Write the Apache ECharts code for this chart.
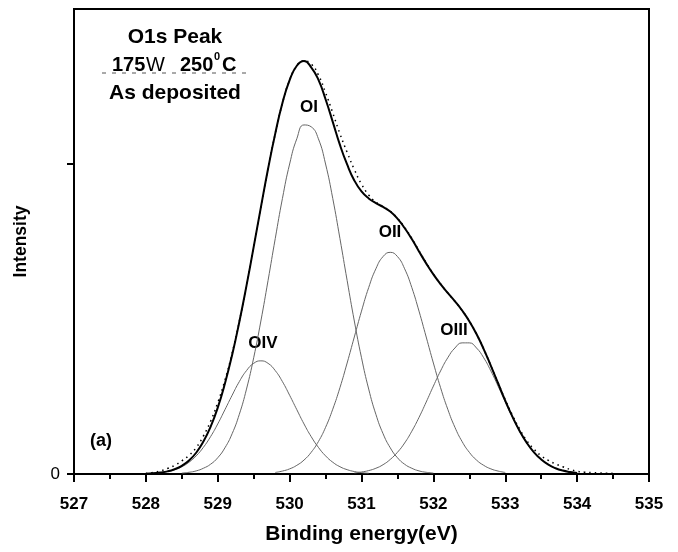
<!DOCTYPE html>
<html><head><meta charset="utf-8">
<script src="https://cdn.jsdelivr.net/npm/echarts@6/dist/echarts.min.js"></script>
<style>html,body{margin:0;padding:0;background:#fff}#c{width:678px;height:552px}</style>
</head><body><div id="c"></div>
<script>
// Shared binding-energy grid (eV), 528.0 ... 534.6 in 0.1 steps
const energy = [528.0,528.1,528.2,528.3,528.4,528.5,528.6,528.7,528.8,528.9,
529.0,529.1,529.2,529.3,529.4,529.5,529.6,529.7,529.8,529.9,
530.0,530.1,530.2,530.3,530.4,530.5,530.6,530.7,530.8,530.9,
531.0,531.1,531.2,531.3,531.4,531.5,531.6,531.7,531.8,531.9,
532.0,532.1,532.2,532.3,532.4,532.5,532.6,532.7,532.8,532.9,
533.0,533.1,533.2,533.3,533.4,533.5,533.6,533.7,533.8,533.9,
534.0,534.1,534.2,534.3,534.4,534.5,534.6];

const n = null;
// Measured data (dotted)
const rawData = [0.004,0.010,0.020,0.035,0.055,0.085,0.120,0.170,0.245,0.340,
0.460,0.605,0.780,0.985,1.215,1.465,1.720,1.969,2.196,2.393,
2.541,2.634,2.665,2.645,2.575,2.460,2.330,2.195,2.075,1.965,
1.870,1.800,1.755,1.725,1.695,1.650,1.590,1.520,1.440,1.362,
1.290,1.226,1.168,1.114,1.055,0.986,0.903,0.806,0.698,0.588,
0.480,0.380,0.290,0.215,0.160,0.118,0.088,0.065,0.047,0.030,
0.018,0.012,0.009,0.007,0.005,0.004,n];

// Fitted envelope (thick)
const envelope = [0.002,0.005,0.010,0.017,0.031,0.053,0.087,0.137,0.209,0.304,
0.428,0.584,0.768,0.981,1.215,1.465,1.720,1.969,2.196,2.393,
2.541,2.634,2.664,2.624,2.544,2.418,2.272,2.123,1.997,1.894,
1.823,1.778,1.748,1.723,1.693,1.648,1.587,1.516,1.436,1.359,
1.288,1.225,1.168,1.114,1.055,0.986,0.903,0.806,0.698,0.586,
0.474,0.370,0.278,0.201,0.140,0.094,0.060,0.037,0.022,0.013,
0.007,n,n,n,n,n,n];

// Components
const peakOI = [n,n,n,n,n,0.006,0.011,0.020,0.037,0.063,
0.105,0.169,0.260,0.385,0.548,0.750,0.987,1.249,1.519,1.778,
2.000,2.163,2.252,2.240,2.163,2.000,1.778,1.519,1.249,0.987,
0.750,0.548,0.385,0.260,0.169,0.105,0.063,0.037,0.020,0.011,
0.006,n,n,n,n,n,n,n,n,n,
n,n,n,n,n,n,n,n,n,n,
n,n,n,n,n,n,n];

const peakOII = [n,n,n,n,n,n,n,n,n,n,
n,n,n,n,n,n,n,n,0.010,0.019,
0.033,0.056,0.090,0.140,0.209,0.301,0.418,0.557,0.716,0.884,
1.051,1.203,1.324,1.403,1.430,1.403,1.324,1.203,1.051,0.884,
0.716,0.557,0.418,0.301,0.209,0.140,0.090,0.056,0.033,0.019,
0.010,n,n,n,n,n,n,n,n,n,
n,n,n,n,n,n,n];

const peakOIII = [n,n,n,n,n,n,n,n,n,n,
n,n,n,n,n,n,n,n,n,n,
n,n,n,n,n,n,n,n,n,0.007,
0.013,0.022,0.037,0.060,0.094,0.140,0.200,0.276,0.365,0.464,
0.567,0.665,0.750,0.813,0.846,0.846,0.813,0.750,0.665,0.567,
0.464,0.365,0.276,0.200,0.140,0.094,0.060,0.037,0.022,0.013,
0.007,n,n,n,n,n,n];

const peakOIV = [n,0.005,0.009,0.016,0.028,0.047,0.076,0.117,0.172,0.241,
0.323,0.415,0.508,0.596,0.667,0.714,0.730,0.714,0.667,0.596,
0.508,0.415,0.323,0.241,0.172,0.117,0.076,0.047,0.028,0.016,
0.009,0.005,n,n,n,n,n,n,n,n,
n,n,n,n,n,n,n,n,n,n,
n,n,n,n,n,n,n,n,n,n,
n,n,n,n,n,n,n];

const xTicks = [527, 535, 1];
const yTickValues = [0, 2];
const yLabelValues = [0];

const pairs = arr => energy.map((e, i) => [e, arr[i]]);
const FONT = 'Arial, "Liberation Sans", sans-serif';

const comp = (name, arr) => ({
  name, type: 'line', data: pairs(arr), showSymbol: false, smooth: 0.5,
  connectNulls: false, lineStyle: { color: '#666', width: 1 }, z: 2, silent: true
});

const chart = echarts.init(document.getElementById('c'), null, { renderer: 'canvas' });
chart.setOption({
  animation: false,
  backgroundColor: '#fff',
  grid: { left: 74, right: 29, top: 9, bottom: 78, show: true, borderColor: '#000', borderWidth: 2, backgroundColor: 'transparent' },
  xAxis: {
    type: 'value', min: xTicks[0], max: xTicks[1], interval: xTicks[2],
    name: 'Binding energy(eV)', nameLocation: 'middle', nameGap: 50,
    nameTextStyle: { color: '#000', fontWeight: 'bold', fontSize: 21, fontFamily: FONT },
    axisLine: { lineStyle: { color: '#000', width: 2 } },
    axisTick: { length: 8, lineStyle: { color: '#000', width: 2 } },
    minorTick: { show: true, splitNumber: 2, length: 5, lineStyle: { color: '#000', width: 2 } },
    splitLine: { show: false },
    axisLabel: { color: '#000', fontWeight: 'bold', fontSize: 17, fontFamily: FONT, margin: 22 }
  },
  yAxis: {
    type: 'value', min: 0, max: 3,
    name: 'Intensity', nameLocation: 'middle', nameGap: 44,
    nameTextStyle: { color: '#000', fontWeight: 'bold', fontSize: 17.5, fontFamily: FONT },
    axisLine: { show: true, lineStyle: { color: '#000', width: 2 } },
    axisTick: { show: true, customValues: yTickValues, length: 7, lineStyle: { color: '#000', width: 2 } },
    splitLine: { show: false },
    axisLabel: { customValues: yLabelValues, color: '#000', fontSize: 17, fontFamily: FONT, margin: 14 }
  },
  series: [
    comp('OI', peakOI), comp('OII', peakOII), comp('OIII', peakOIII), comp('OIV', peakOIV),
    { name: 'raw', type: 'line', data: pairs(rawData), showSymbol: false, smooth: 0.5,
      lineStyle: { color: '#000', width: 1.5, type: [1.5, 4] }, z: 3, silent: true },
    { name: 'envelope', type: 'line', data: pairs(envelope), showSymbol: false, smooth: 0.5,
      lineStyle: { color: '#000', width: 2 }, z: 4, silent: true }
  ],
  graphic: [
    { type: 'text', x: 175, y: 37, style: { text: 'O1s Peak', font: 'bold 21px ' + FONT, fill: '#000', align: 'center', verticalAlign: 'middle' } },
    { type: 'text', x: 112, y: 65, style: { text: '175', font: 'bold 20px ' + FONT, fill: '#000', align: 'left', verticalAlign: 'middle' } },
    { type: 'text', x: 146, y: 65, style: { text: 'W', font: '20px ' + FONT, fill: '#000', align: 'left', verticalAlign: 'middle' } },
    { type: 'text', x: 180, y: 65, style: { text: '250', font: 'bold 20px ' + FONT, fill: '#000', align: 'left', verticalAlign: 'middle' } },
    { type: 'text', x: 214, y: 57, style: { text: '0', font: 'bold 11px ' + FONT, fill: '#000', align: 'left', verticalAlign: 'middle' } },
    { type: 'text', x: 222, y: 65, style: { text: 'C', font: 'bold 20px ' + FONT, fill: '#000', align: 'left', verticalAlign: 'middle' } },
    { type: 'line', shape: { x1: 102, y1: 73, x2: 252, y2: 73 }, style: { stroke: '#555', lineWidth: 1, lineDash: [4, 6] } },
    { type: 'text', x: 175, y: 93, style: { text: 'As deposited', font: 'bold 21px ' + FONT, fill: '#000', align: 'center', verticalAlign: 'middle' } },
    { type: 'text', x: 309, y: 107, style: { text: 'OI', font: 'bold 17px ' + FONT, fill: '#000', align: 'center', verticalAlign: 'middle' } },
    { type: 'text', x: 390, y: 232, style: { text: 'OII', font: 'bold 17px ' + FONT, fill: '#000', align: 'center', verticalAlign: 'middle' } },
    { type: 'text', x: 454, y: 330, style: { text: 'OIII', font: 'bold 17px ' + FONT, fill: '#000', align: 'center', verticalAlign: 'middle' } },
    { type: 'text', x: 263, y: 343, style: { text: 'OIV', font: 'bold 17px ' + FONT, fill: '#000', align: 'center', verticalAlign: 'middle' } },
    { type: 'text', x: 101, y: 441, style: { text: '(a)', font: 'bold 18px ' + FONT, fill: '#000', align: 'center', verticalAlign: 'middle' } }
  ]
});
</script>
</body></html>
